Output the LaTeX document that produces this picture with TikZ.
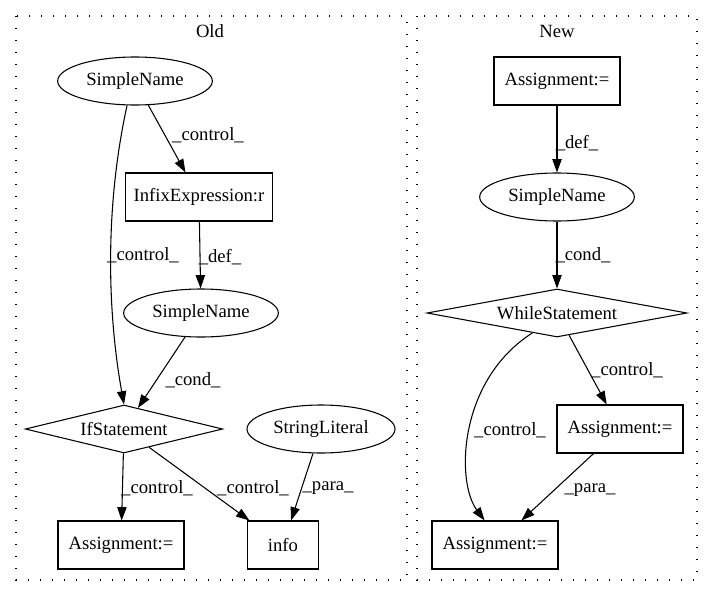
\documentclass[tikz,border=0pt]{standalone}
\usepackage{fontspec}
\setmainfont{Liberation Serif}
\usetikzlibrary{shapes.geometric,arrows.meta}
\begin{document}
\begin{tikzpicture}[x=0.75pt,y=-0.75pt,
  every node/.style={font=\fontsize{14}{16}\selectfont},
  box/.style={draw, rectangle, minimum height=36pt, inner sep=0pt, line width=0.8pt},
  ell/.style={draw, ellipse, minimum height=36pt, inner sep=0pt, line width=0.8pt},
  dia/.style={draw, diamond, minimum height=36pt, inner sep=0pt, line width=0.8pt},
  conn/.style={-{Triangle[length=10pt,width=7pt]}, line width=0.8pt},
  lbl/.style={inner sep=0pt},
  clusterbox/.style={draw, line width=1pt, dash pattern=on 1pt off 8pt}
]
\useasboundingbox (0,0) rectangle (713,596);

% clusters
\draw[clusterbox] (16,16) rectangle (407,580);
\draw[clusterbox] (417,16) rectangle (697,580);
\node (oldt) at (210,31) {Old};
\node (newt) at (557,31) {New};

% Old
\node[ell, minimum width=116pt] (sn1) at (135,81) {SimpleName};
\node[box, minimum width=110pt] (infix) at (199,197) {InfixExpression:r};
\node[ell, minimum width=116pt] (sn2) at (201,313) {SimpleName};
\node[dia, aspect=4.1, minimum width=148pt] (ifs) at (124,429) {IfStatement};
\node[ell, minimum width=111pt] (strlit) at (321,429) {StringLiteral};
\node[box, minimum width=94.5pt] (asg1) at (121,545) {Assignment:=};
\node[box, minimum width=53pt] (info) at (283,545) {info};

% New
\node[box, minimum width=94.5pt] (asgA) at (557,81) {Assignment:=};
\node[ell, minimum width=116pt] (sn3) at (557,197) {SimpleName};
\node[dia, aspect=5.4, minimum width=195pt] (ws) at (557,313) {WhileStatement};
\node[box, minimum width=94.5pt] (asgB) at (620,429) {Assignment:=};
\node[box, minimum width=94.5pt] (asgC) at (495,545) {Assignment:=};

% Old edges
\draw[conn] (sn1) -- (infix) node[lbl] at (208,135) {\_control\_};
\draw[conn] (sn1.-108) .. controls +(-22,100) and +(-17,-95) .. (ifs.north) node[lbl] at (143,255) {\_control\_};
\draw[conn] (infix) -- (sn2) node[lbl] at (220,257) {\_def\_};
\draw[conn] (sn2) -- (ifs) node[lbl] at (193,380) {\_cond\_};
\draw[conn] (ifs) -- (asg1) node[lbl] at (157,488) {\_control\_};
\draw[conn] (ifs) -- (info) node[lbl] at (253,488) {\_control\_};
\draw[conn] (strlit) -- (info) node[lbl] at (328,488) {\_para\_};

% New edges
\draw[conn] (asgA) -- (sn3) node[lbl] at (577,143) {\_def\_};
\draw[conn] (sn3) -- (ws) node[lbl] at (583,255) {\_cond\_};
\draw[conn] (ws) -- (asgB) node[lbl] at (627,370) {\_control\_};
\draw[conn] (ws.-141) .. controls +(-74,47) and +(-29,-39) .. (asgC.113) node[lbl] at (510,430) {\_control\_};
\draw[conn] (asgB) -- (asgC) node[lbl] at (590,490) {\_para\_};
\end{tikzpicture}
\end{document}
